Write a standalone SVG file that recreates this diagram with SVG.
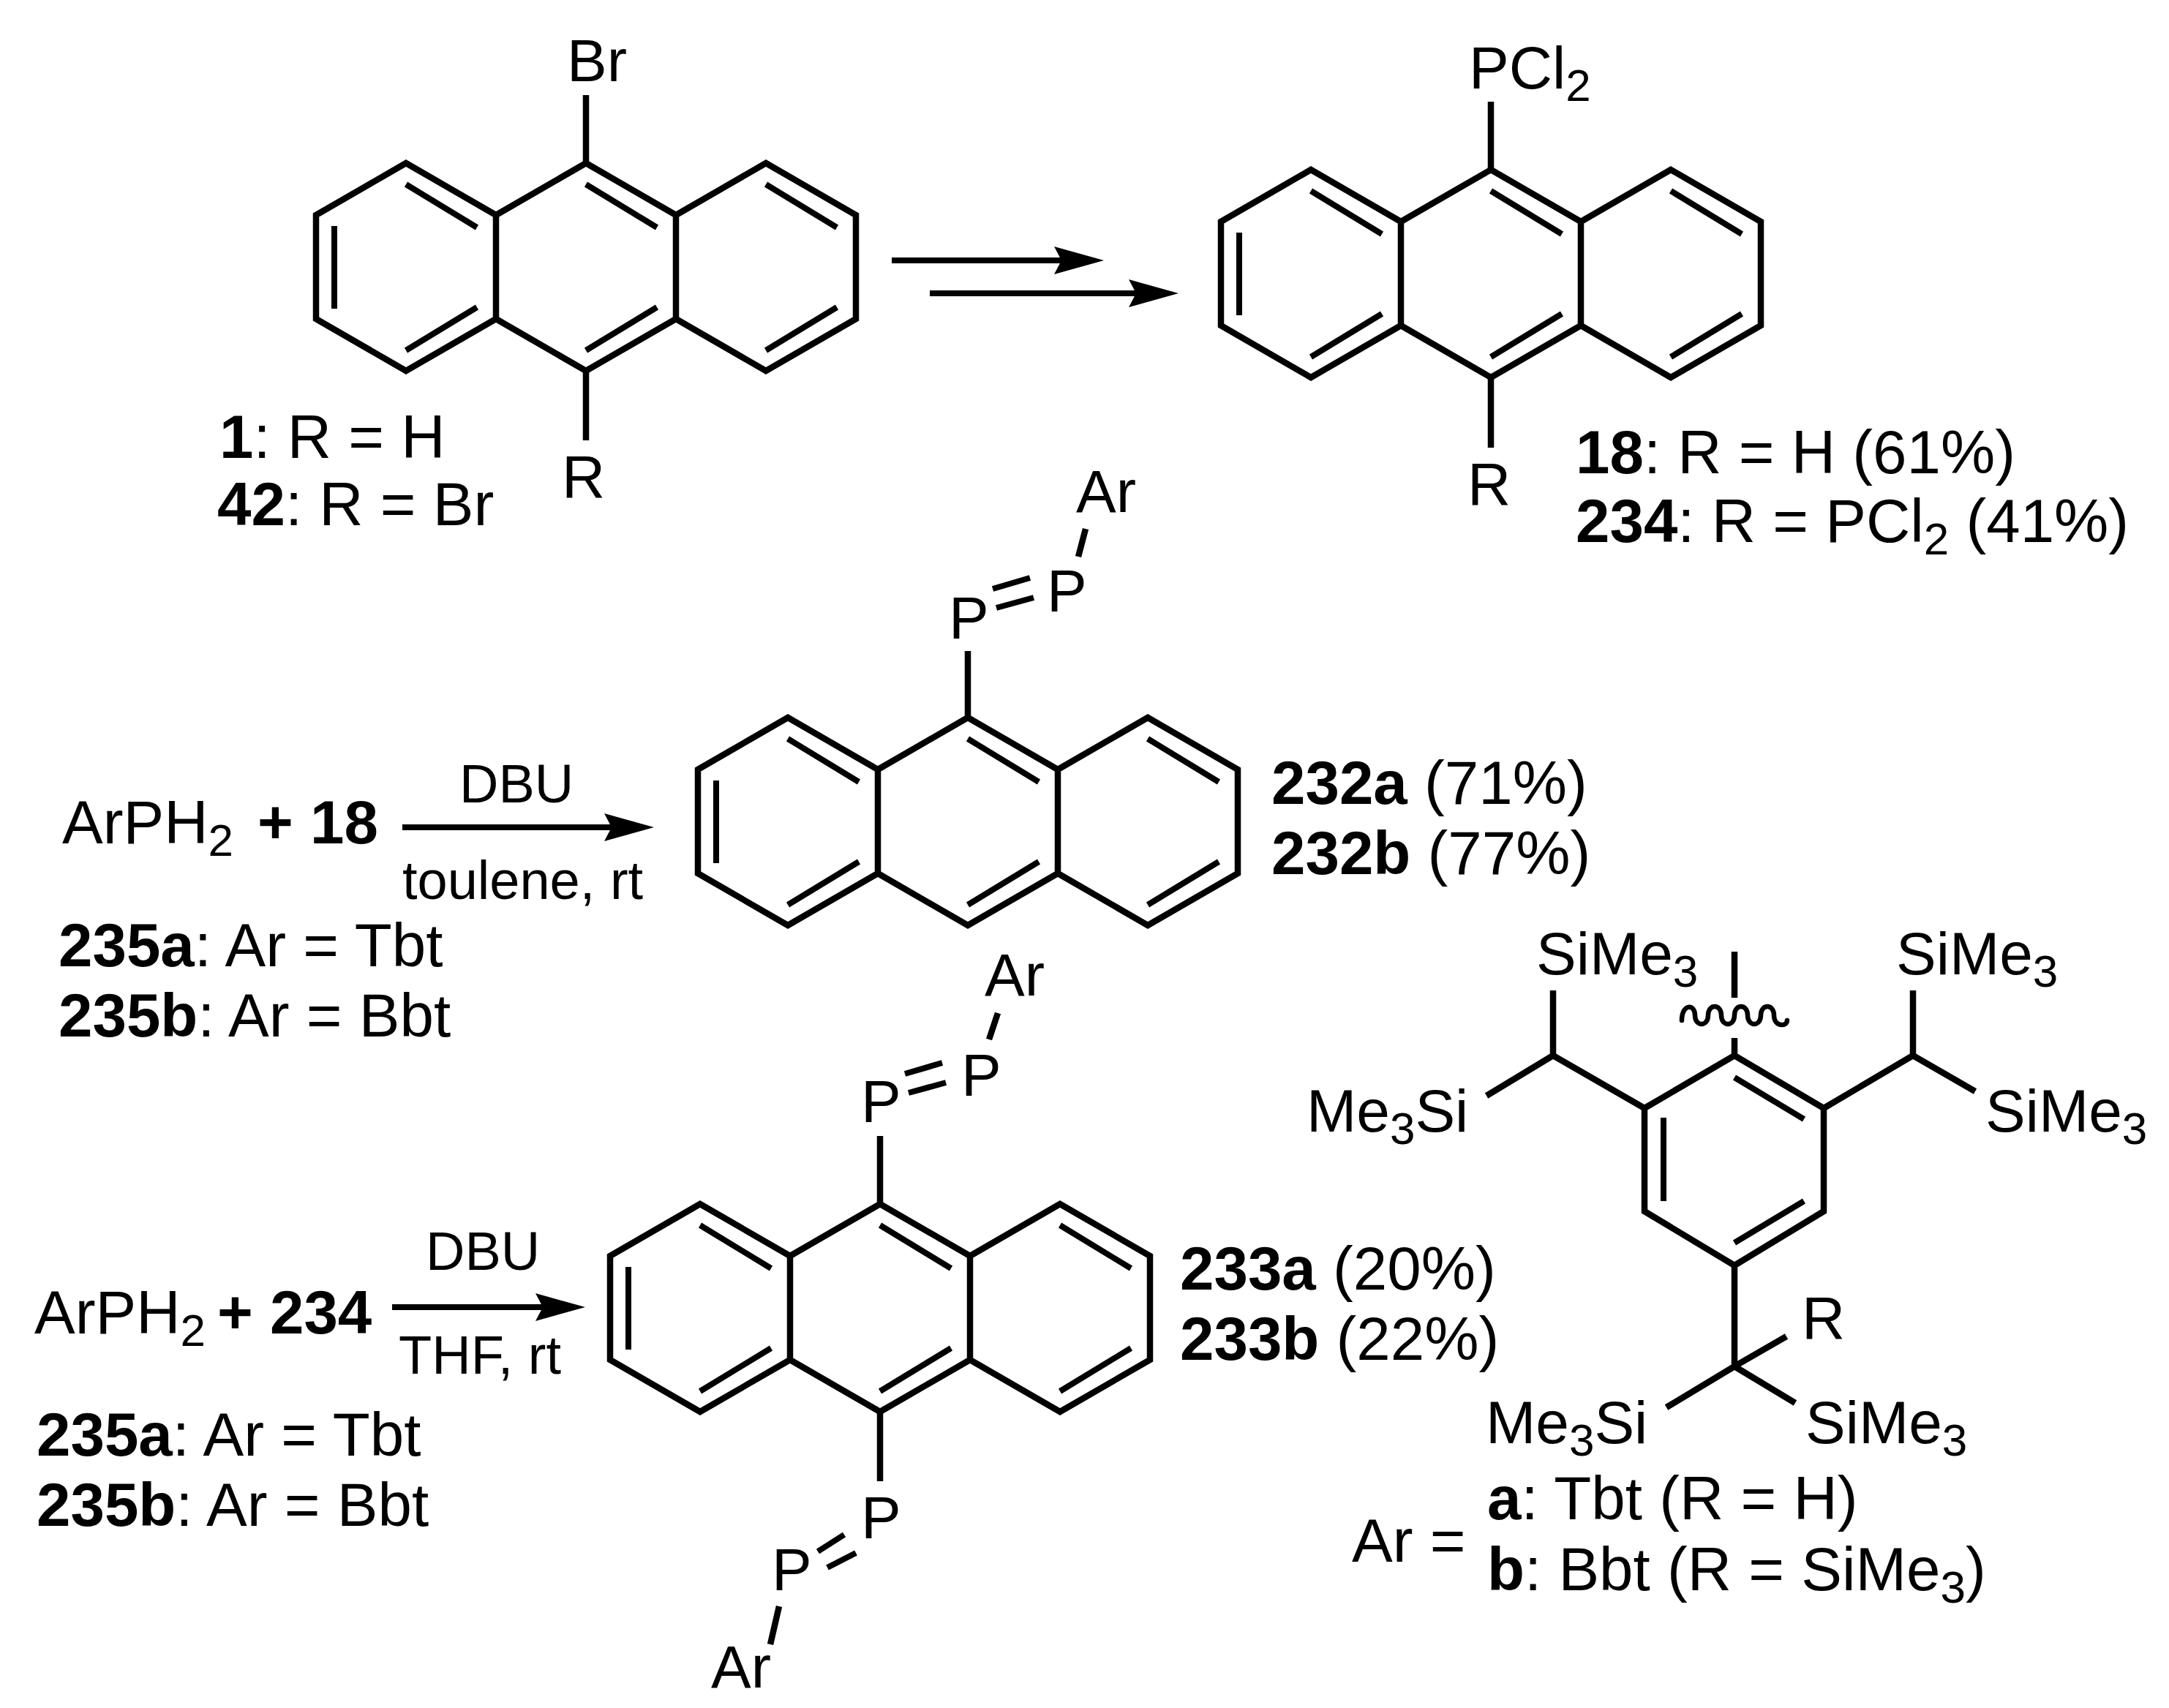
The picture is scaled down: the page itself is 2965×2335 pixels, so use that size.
<svg xmlns="http://www.w3.org/2000/svg" xmlns:xlink="http://www.w3.org/1999/xlink" width="2965" height="2335" viewBox="0 0 2965 2335">
<style>
text{font-family:"Liberation Sans",Arial,sans-serif;fill:#000}
.a{font-size:82px}
.l{font-size:83.5px}
.c{font-size:74px}
.b{font-weight:bold}
.s{font-size:62px}
.k{fill:none;stroke:#000;stroke-width:8.5;stroke-linejoin:miter;stroke-linecap:butt}
.i{fill:none;stroke:#000;stroke-width:8}
.w{fill:none;stroke:#000;stroke-width:6.5;stroke-linecap:round}
.ar{fill:none;stroke:#000;stroke-width:8}
</style>
<defs>
<marker id="head" markerUnits="userSpaceOnUse" markerWidth="80" markerHeight="44" refX="38" refY="22" orient="auto" viewBox="0 0 80 44">
<path d="M0,3 L68,22 L0,41 L10,22 Z" fill="#000"/>
</marker>
<g id="anth">
<path class="k" d="M-369,71 L-246,0 L-123,71 L0,0 L123,71 L246,0 L369,71 L369,213 L246,284 L123,213 L0,284 L-123,213 L-246,284 L-369,213 Z M-123,71 L-123,213 M123,71 L123,213"/>
<path class="i" d="M-344,86 V199 M-246,29 L-149,88 M-246,256 L-149,197 M0,29 L97,88 M0,256 L97,197 M246,29 L343,88 M246,256 L343,197"/>
</g>
</defs>

<g id="connectors">
<path class="ar" marker-end="url(#head)" d="M1219,356 H1479"/>
<path class="ar" marker-end="url(#head)" d="M1271,401 H1581"/>
<path class="ar" marker-end="url(#head)" d="M550,1131 H864"/>
<path class="ar" marker-end="url(#head)" d="M536,1787 H770"/>
</g>

<g id="node-1-42">
<use xlink:href="#anth" href="#anth" x="801" y="223"/>
<path class="k" d="M801,130 V223 M801,507 V602"/>
<text class="a" x="775" y="111">Br</text>
<text class="a" x="768" y="680">R</text>
<text class="l" x="300" y="626"><tspan class="b">1</tspan>: R = H</text>
<text class="l" x="297" y="718"><tspan class="b">42</tspan>: R = Br</text>
</g>

<g id="node-18-234">
<use xlink:href="#anth" href="#anth" x="2038" y="232"/>
<path class="k" d="M2038,139 V232 M2038,516 V612"/>
<text class="a" x="2008" y="121">PCl<tspan class="s" dy="17">2</tspan></text>
<text class="a" x="2006" y="690">R</text>
<text class="l" x="2154" y="647"><tspan class="b">18</tspan>: R = H (61%)</text>
<text class="l" x="2154" y="741"><tspan class="b">234</tspan>: R = PCl<tspan class="s" dy="17">2</tspan><tspan dy="-17"> (41%)</tspan></text>
</g>

<g id="node-232">
<use xlink:href="#anth" href="#anth" x="1323" y="981"/>
<path class="k" d="M1323,890 V981 M1484,723 L1474,761"/>
<path class="i" d="M1357,805 L1408,790 M1362,831 L1413,817"/>
<text class="a" x="1471" y="700">Ar</text>
<text class="a" x="1297" y="873">P</text>
<text class="a" x="1431" y="836">P</text>
<text class="l" x="1738" y="1099"><tspan class="b">232a</tspan> (71%)</text>
<text class="l" x="1738" y="1195"><tspan class="b">232b</tspan> (77%)</text>
</g>

<g id="reagents-232">
<text class="l" x="85" y="1153">ArPH<tspan class="s" dy="17">2</tspan><tspan class="b" dy="-17" x="352">+ 18</tspan></text>
<text class="c" x="628" y="1097">DBU</text>
<text class="c" x="550" y="1229">toulene, rt</text>
<text class="l" x="80" y="1321"><tspan class="b">235a</tspan>: Ar = Tbt</text>
<text class="l" x="80" y="1417"><tspan class="b">235b</tspan>: Ar = Bbt</text>
</g>

<g id="node-233">
<use xlink:href="#anth" href="#anth" x="1203" y="1646"/>
<path class="k" d="M1203,1553 V1646 M1203,1930 V2025 M1364,1385 L1352,1421 M1065,2196 L1053,2248"/>
<path class="i" d="M1237,1468 L1288,1453 M1242,1494 L1293,1480 M1118,2121 L1154,2098 M1131,2143 L1170,2123"/>
<text class="a" x="1346" y="1361">Ar</text>
<text class="a" x="1177" y="1534">P</text>
<text class="a" x="1314" y="1498">P</text>
<text class="a" x="1177" y="2103">P</text>
<text class="a" x="1055" y="2174">P</text>
<text class="a" x="972" y="2307">Ar</text>
<text class="l" x="1613" y="1763"><tspan class="b">233a</tspan> (20%)</text>
<text class="l" x="1613" y="1859"><tspan class="b">233b</tspan> (22%)</text>
</g>

<g id="reagents-233">
<text class="l" x="47" y="1823">ArPH<tspan class="s" dy="17">2</tspan><tspan class="b" dy="-17" x="297">+ 234</tspan></text>
<text class="c" x="582" y="1736">DBU</text>
<text class="c" x="545" y="1878">THF, rt</text>
<text class="l" x="50" y="1990"><tspan class="b">235a</tspan>: Ar = Tbt</text>
<text class="l" x="50" y="2086"><tspan class="b">235b</tspan>: Ar = Bbt</text>
</g>

<g id="node-Ar">
<path class="k" d="M2248,1515 L2371,1443 L2493,1515 V1656 L2371,1730 L2248,1656 Z"/>
<path class="i" d="M2274,1528 V1642 M2371,1473 L2466,1530 M2371,1699 L2466,1642"/>
<path class="k" d="M2371,1301 V1364 M2371,1419 V1443 M2248,1515 L2123,1443 V1354 M2123,1443 L2032,1498 M2493,1515 L2615,1443 V1354 M2615,1443 L2700,1492 M2371,1730 V1868 L2442,1827 M2371,1868 L2278,1924 M2371,1868 L2454,1918"/>
<path class="w" d="M2299,1395 C2299,1372 2317,1372 2317,1388 C2317,1404 2335,1404 2335,1388 C2335,1372 2353,1372 2353,1388 C2353,1404 2371,1404 2371,1388 C2371,1372 2389,1372 2389,1388 C2389,1404 2407,1404 2407,1388 C2407,1372 2425,1372 2425,1388 C2425,1404 2443,1404 2443,1395"/>
<text class="a" x="2100" y="1332">SiMe<tspan class="s" dy="17">3</tspan></text>
<text class="a" x="2592" y="1332">SiMe<tspan class="s" dy="17">3</tspan></text>
<text class="a" x="1786" y="1547">Me<tspan class="s" dy="17">3</tspan><tspan dy="-17">Si</tspan></text>
<text class="a" x="2714" y="1547">SiMe<tspan class="s" dy="17">3</tspan></text>
<text class="a" x="2463" y="1830">R</text>
<text class="a" x="2031" y="1973">Me<tspan class="s" dy="17">3</tspan><tspan dy="-17">Si</tspan></text>
<text class="a" x="2468" y="1973">SiMe<tspan class="s" dy="17">3</tspan></text>
<text class="l" x="1848" y="2135">Ar =</text>
<text class="l" x="2033" y="2077"><tspan class="b">a</tspan>: Tbt (R = H)</text>
<text class="l" x="2033" y="2174"><tspan class="b">b</tspan>: Bbt (R = SiMe<tspan class="s" dy="17">3</tspan><tspan dy="-17">)</tspan></text>
</g>
</svg>
